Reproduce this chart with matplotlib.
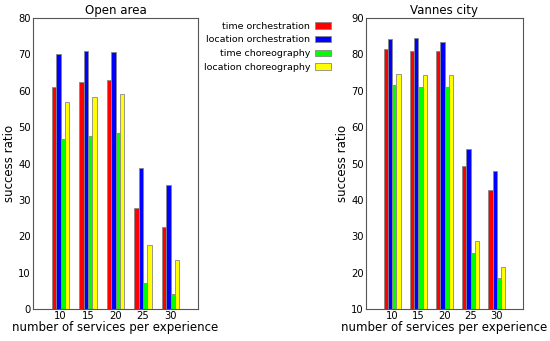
import numpy as np
import matplotlib
matplotlib.use('agg')
import matplotlib.pyplot as plt

services = [10, 15, 20, 25, 30]
series = ["time orchestration", "location orchestration",
          "time choreography", "location choreography"]
colors = ["#ff0000", "#0000ff", "#00ff00", "#ffff00"]

# open area
open_time_orch = [60.9, 62.4, 62.9, 27.8, 22.6]
open_loc_orch = [70.1, 70.8, 70.6, 38.7, 34.0]
open_time_chor = [46.8, 47.6, 48.3, 7.1, 4.2]
open_loc_chor = [56.8, 58.2, 59.2, 17.5, 13.6]

# vannes city
city_time_orch = [81.4, 81.0, 80.9, 49.4, 42.8]
city_loc_orch = [84.1, 84.4, 83.5, 53.9, 47.9]
city_time_chor = [71.5, 71.0, 71.0, 25.3, 18.6]
city_loc_chor = [74.6, 74.2, 74.2, 28.8, 21.5]

fig = plt.figure(figsize=(5.5, 3.41), dpi=100)
ax1 = fig.add_axes([33/550, 1 - 309/341, 165/550, 291/341])
ax2 = fig.add_axes([366/550, 1 - 309/341, 157/550, 291/341])

width = 0.8
offsets = [-1.2, -0.4, 0.4, 1.2]


def draw(ax, data, title, ylim, yticks):
    x = np.array(services, dtype=float)
    handles = []
    for vals, off, col, name in zip(data, offsets, colors, series):
        h = ax.bar(x + off, vals, width, color=col, edgecolor='#888888',
                   linewidth=0.6, label=name)
        handles.append(h)
    ax.set_xlim(5, 35)
    ax.set_ylim(*ylim)
    ax.set_xticks(services)
    ax.set_xticklabels([str(s) for s in services])
    ax.set_yticks(yticks)
    ax.tick_params(direction='in', length=0, labelsize=7.2, pad=1.5)
    ax.set_title(title, fontsize=8.5, pad=3)
    ax.set_xlabel("number of services per experience", fontsize=8.5, labelpad=0)
    ax.set_ylabel("success ratio", fontsize=8.5, labelpad=2)
    for sp in ax.spines.values():
        sp.set_color('#555555')
        sp.set_linewidth(0.8)
    return handles


handles = draw(ax1, [open_time_orch, open_loc_orch, open_time_chor, open_loc_chor],
               "Open area", (0, 80), range(0, 81, 10))
draw(ax2, [city_time_orch, city_loc_orch, city_time_chor, city_loc_chor],
     "Vannes city", (10, 90), range(10, 91, 10))

fig.legend(handles, series, loc='upper right', bbox_to_anchor=(336/550, 1 - 17/341),
           frameon=False, markerfirst=False, fontsize=6.8, handlelength=1.75,
           handleheight=0.7, handletextpad=0.5, labelspacing=0.5, borderpad=0)

fig.savefig("out.png", dpi=100)
